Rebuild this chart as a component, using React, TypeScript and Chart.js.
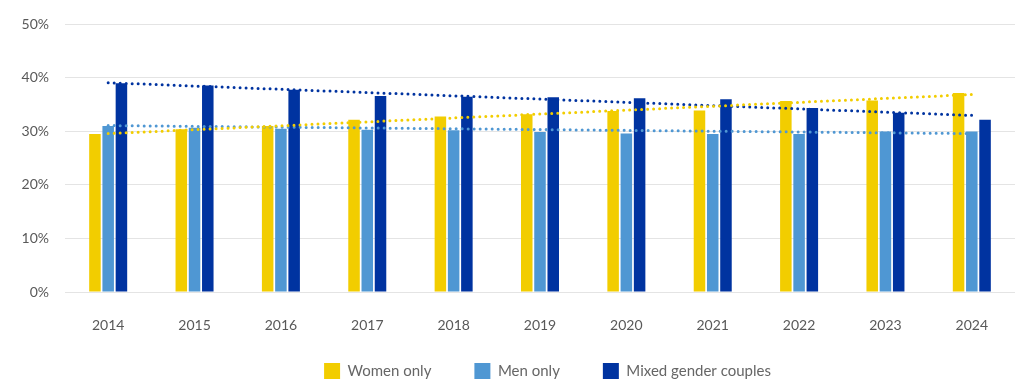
import React, { useEffect, useRef } from "react";
import { Chart, registerables } from "chart.js";

Chart.register(...registerables);

const years = ["2014", "2015", "2016", "2017", "2018", "2019", "2020", "2021", "2022", "2023", "2024"];
const womenOnly = [29.5, 30.4, 31.0, 32.2, 32.8, 33.2, 33.8, 33.9, 35.7, 35.8, 37.2];
const menOnly = [31.0, 30.7, 30.5, 30.3, 30.2, 29.9, 29.6, 29.5, 29.5, 30.0, 30.0];
const mixedCouples = [39.0, 38.6, 37.8, 36.6, 36.5, 36.4, 36.2, 36.0, 34.4, 33.5, 32.2];
// trend line values at the first and last year
const womenTrend = [29.6, 36.9];
const menTrend = [31.1, 29.6];
const mixedTrend = [39.1, 33.0];
const seriesNames = ["Women only", "Men only", "Mixed gender couples"];
const yMin = 0;
const yMax = 50;
const yStep = 10;

const YELLOW = "#F2CD00";
const LIGHT = "#4F97D3";
const DARK = "#0033A0";
const FONT = "Lato, 'Noto Sans', sans-serif";

function trendPoints(vals: number[]) {
  return [
    { x: years[0], y: vals[0] },
    { x: years[years.length - 1], y: vals[1] },
  ];
}

const legendShift = {
  id: "legendShift",
  afterLayout(chart: any) {
    const l = chart.legend;
    if (!l) return;
    l.left += 40;
    l.right += 40;
    l.top -= 14;
  },
};

export default function App() {
  const ref = useRef<HTMLCanvasElement | null>(null);
  useEffect(() => {
    if (!ref.current) return;
    const trendStyle = (color: string) => ({
      type: "line" as const,
      borderColor: color,
      backgroundColor: color,
      borderWidth: 3,
      borderDash: [0, 6],
      borderCapStyle: "round" as const,
      pointRadius: 0,
      fill: false,
      order: 0,
    });
    const barStyle = { order: 1, categoryPercentage: 0.46, barPercentage: 0.87 };
    const chart = new Chart(ref.current, {
      type: "bar",
      data: {
        labels: years,
        datasets: [
          { label: seriesNames[0], data: womenOnly, backgroundColor: YELLOW, ...barStyle },
          { label: seriesNames[1], data: menOnly, backgroundColor: LIGHT, ...barStyle },
          { label: seriesNames[2], data: mixedCouples, backgroundColor: DARK, ...barStyle },
          { label: "trend1", data: trendPoints(womenTrend), ...trendStyle(YELLOW) } as any,
          { label: "trend2", data: trendPoints(menTrend), ...trendStyle(LIGHT) } as any,
          { label: "trend3", data: trendPoints(mixedTrend), ...trendStyle(DARK) } as any,
        ],
      },
      plugins: [legendShift],
      options: {
        animation: false,
        responsive: false,
        events: [],
        layout: { padding: { top: 19, right: 9, left: 0, bottom: 0 } },
        plugins: {
          tooltip: { enabled: false },
          title: { display: false },
          legend: {
            position: "bottom",
            maxHeight: 51,
            labels: {
              boxWidth: 16,
              boxHeight: 16,
              padding: 43,
              color: "#666666",
              font: { family: FONT, size: 15 },
              filter: (item: any) => item.datasetIndex < 3,
            },
          },
        },
        scales: {
          x: {
            grid: { display: false, drawTicks: false },
            border: { display: false },
            ticks: { color: "#595959", font: { family: FONT, size: 14 }, padding: 25, maxRotation: 0 },
            afterFit: (s: any) => { s.height = 42; },
          },
          y: {
            min: yMin,
            max: yMax,
            grid: { color: "#E4E4E4", lineWidth: 1, drawTicks: false },
            border: { display: false },
            ticks: {
              stepSize: yStep,
              padding: 16,
              color: "#595959",
              font: { family: FONT, size: 14 },
              callback: (v: any) => v + "%",
            },
            afterFit: (s: any) => { s.width = 65; },
          },
        },
      },
    });
    return () => chart.destroy();
  }, []);
  return (
    <div style={{ position: "fixed", left: 0, top: 0, width: 1024, height: 385, background: "#fff" }}>
      <canvas ref={ref} width={1024} height={385} style={{ display: "block" }} />
    </div>
  );
}
